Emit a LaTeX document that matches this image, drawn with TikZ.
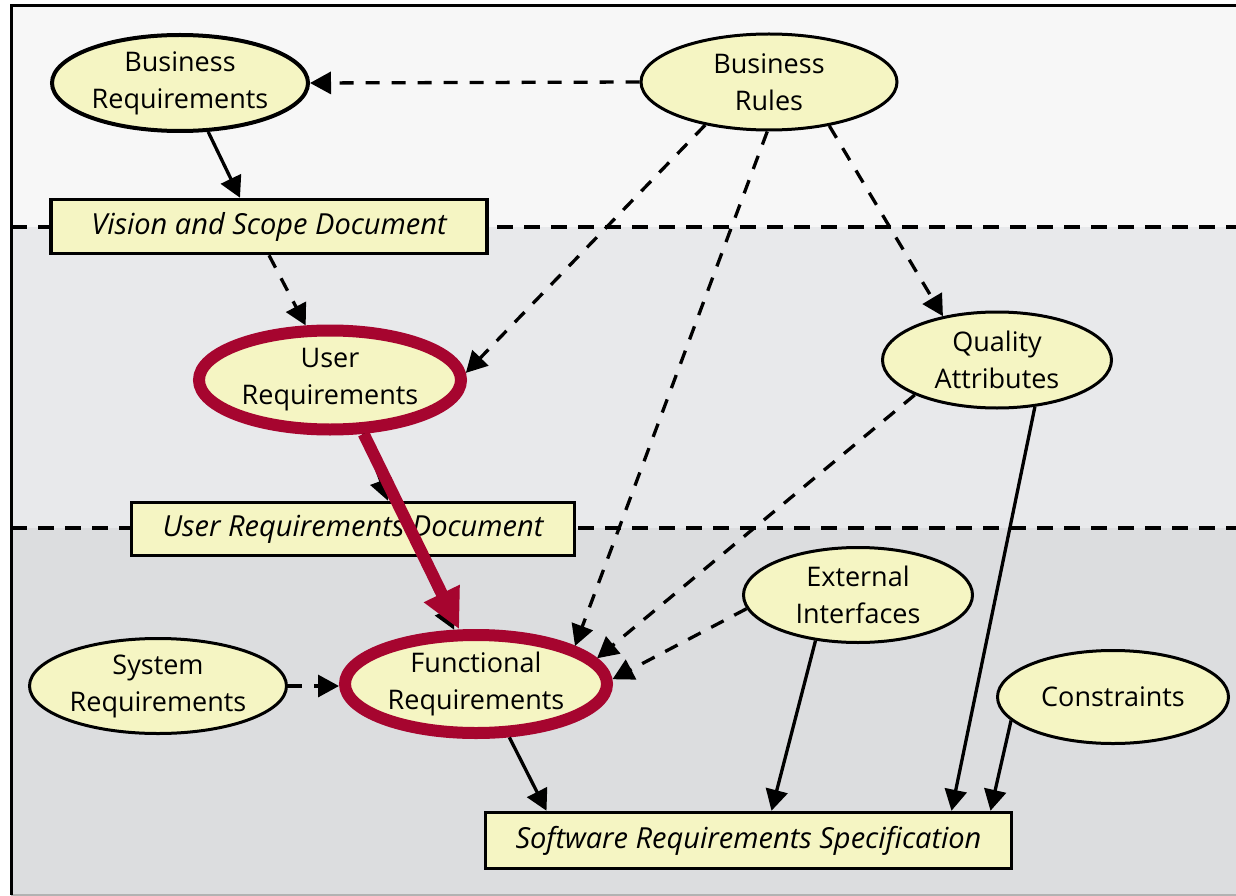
\documentclass[tikz,border=0pt]{standalone}
\usepackage{fontspec}
\setmainfont{Open Sans}
\usetikzlibrary{arrows.meta,shapes.geometric}
\definecolor{ylw}{HTML}{F5F5C3}
\definecolor{redc}{HTML}{A6052F}
\definecolor{bgtop}{HTML}{F7F7F7}
\definecolor{bgmid}{HTML}{E8E9EB}
\definecolor{bgbot}{HTML}{DCDDDF}
\begin{document}
\begin{tikzpicture}[x=1pt,y=-1pt,
  ell/.style={ellipse, draw=black, line width=3pt, fill=ylw, inner sep=0pt, align=center, font=\fontsize{27}{37}\selectfont},
  redell/.style={ell, draw=redc, line width=12pt},
  doc/.style={rectangle, draw=black, line width=3.5pt, fill=ylw, inner sep=0pt, font=\fontsize{29}{37}\selectfont\itshape},
  conn/.style={-{Triangle[length=21pt,width=22pt]}, line width=3.3pt},
  dconn/.style={conn, dash pattern=on 14pt off 12pt},
  sep/.style={line width=3.5pt, dash pattern=on 16pt off 11pt},
]
\useasboundingbox (0,0) rectangle (1236,896);
\fill[white] (0,0) rectangle (1236,896);
\fill[bgtop] (11,6) rectangle (1236,227);
\fill[bgmid] (11,227) rectangle (1236,528);
\fill[bgbot] (11,528) rectangle (1236,895);
\draw[gray!60, line width=1.5pt] (11,895) -- (1236,895);
\draw[line width=3pt] (11,895) -- (11,6) -- (1240,6);
\draw[sep] (11,227) -- (1236,227);
\draw[sep] (11,528) -- (1236,528);

\node[ell, line width=4pt, minimum width=256pt, minimum height=96pt] (breq) at (180,83) {Business\\Requirements};
\node[ell, minimum width=256pt, minimum height=96pt] (brul) at (769,82) {Business\\Rules};
\node[doc, minimum width=436pt, minimum height=54pt] (vis) at (269,226.5) {Vision and Scope Document};
\node[redell, minimum width=262pt, minimum height=99pt] (ur) at (330,380) {User\\Requirements};
\node[ell, minimum width=229pt, minimum height=96pt] (qa) at (997,360) {Quality\\Attributes};
\node[doc, minimum width=443pt, minimum height=53pt] (urd) at (353,529) {User Requirements Document};
\node[ell, minimum width=229pt, minimum height=95pt] (ei) at (858,595) {External\\Interfaces};
\node[ell, minimum width=257pt, minimum height=95pt] (sys) at (158,686) {System\\Requirements};
\node[redell, minimum width=262pt, minimum height=98pt] (fr) at (476,684) {Functional\\Requirements};
\node[ell, minimum width=231pt, minimum height=93pt] (con) at (1113,697) {Constraints};
\node[doc, minimum width=526pt, minimum height=56pt] (srs) at (748.5,840.5) {Software Requirements Specification};

\draw[dconn] (brul.west) -- (breq.east);
\draw[conn] (breq.-60) -- ([xshift=-29pt]vis.north);
\draw[dconn] (vis.south) -- (ur.114);
\draw[dconn] (brul.214) -- (ur.3);
\draw[dconn] (brul.268) -- (fr.21);
\draw[dconn] (brul.-36) -- (qa.141);
\draw[dconn] (qa.203) -- (fr.12);
\draw[dconn] (ei.187) -- (fr.2);
\draw[dconn] (sys.east) -- (sys.east -| fr.west);
\draw[conn] (fr.-58) -- ([xshift=-202pt]srs.north);
\draw[conn] (ei.-133) -- ([xshift=23pt]srs.north);
\draw[conn] (qa.-51) -- ([xshift=203pt]srs.north);
\draw[conn] (con.193) -- ([xshift=242pt]srs.north);
\draw[conn] (ur.-58) -- ([xshift=35pt]urd.north);
\draw[dconn] ([xshift=67pt]urd.south) -- (fr.112);
\draw[redc, line width=12pt, -{Triangle[length=40pt,width=37pt]}] (ur.-58) -- (fr.107);
\end{tikzpicture}
\end{document}
